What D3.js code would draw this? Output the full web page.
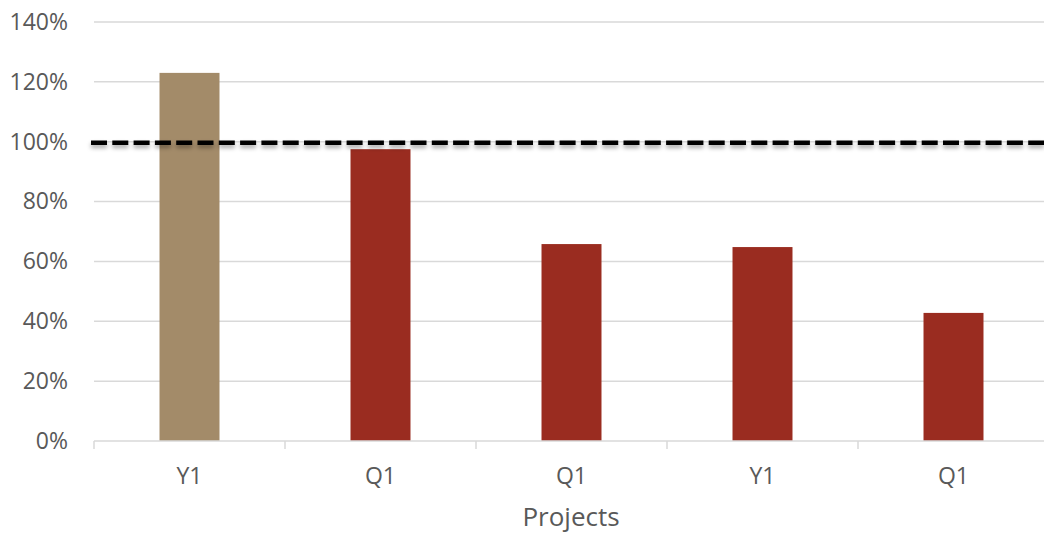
<!DOCTYPE html>
<html>
<head>
<meta charset="utf-8">
<script src="https://cdn.jsdelivr.net/npm/d3@7/dist/d3.min.js"></script>
<style>
  html, body { margin: 0; padding: 0; background: #fff; }
  svg { display: block; font-family: "Open Sans", "Noto Sans", sans-serif; }
</style>
</head>
<body>
<svg id="chart" width="1044" height="535"></svg>
<script>
// Project completion ratios
const categories = ["Y1", "Q1", "Q1", "Y1", "Q1"];
const values = [123, 97.5, 65.8, 64.8, 42.8];
const barColors = ["#A38B69", "#9A2C20", "#9A2C20", "#9A2C20", "#9A2C20"];
const yTicks = [0, 20, 40, 60, 80, 100, 120, 140];
const targetValue = 100;
const xTitle = "Projects";

const svg = d3.select("#chart");
const plotLeft = 94, plotRight = 1049, plotTop = 22, plotBottom = 441;

const x = d3.scaleBand()
  .domain(d3.range(categories.length))
  .range([plotLeft, plotRight])
  .paddingInner(0.686)
  .paddingOuter(0.343);

const band = d3.scaleBand()
  .domain(d3.range(categories.length))
  .range([plotLeft, plotRight]);

const y = d3.scaleLinear().domain([0, 140]).range([plotBottom, plotTop]);

// drop shadow for the target line (user-space region: the line has no height)
const defs = svg.append("defs");
const f = defs.append("filter").attr("id", "shadow")
  .attr("filterUnits", "userSpaceOnUse")
  .attr("x", 0).attr("y", y(targetValue) - 20)
  .attr("width", 1044).attr("height", 40);
f.append("feDropShadow")
  .attr("dx", 0).attr("dy", 3).attr("stdDeviation", 2)
  .attr("flood-color", "#000").attr("flood-opacity", 0.35);

// gridlines
svg.append("g")
  .selectAll("line")
  .data(yTicks.filter(d => d > 0))
  .join("line")
  .attr("x1", plotLeft).attr("x2", 1044)
  .attr("y1", d => y(d)).attr("y2", d => y(d))
  .attr("stroke", "#d9d9d9").attr("stroke-width", 1.5);

// y axis labels
const yAxis = d3.axisLeft(y).tickValues(yTicks).tickFormat(d => d + "%").tickSize(0).tickPadding(0);
svg.append("g")
  .attr("transform", `translate(68,0)`)
  .call(yAxis)
  .call(g => g.select(".domain").remove())
  .call(g => g.selectAll("text")
    .attr("fill", "#595959")
    .style("font-size", "23px")
    .style("font-family", "'Open Sans', sans-serif"));

// bars
svg.append("g")
  .selectAll("rect")
  .data(values)
  .join("rect")
  .attr("x", (d, i) => x(i))
  .attr("width", x.bandwidth())
  .attr("y", d => y(d))
  .attr("height", d => y(0) - y(d))
  .attr("fill", (d, i) => barColors[i]);

// x axis baseline and category ticks
const xg = svg.append("g");
xg.append("line")
  .attr("x1", plotLeft).attr("x2", 1044)
  .attr("y1", plotBottom).attr("y2", plotBottom)
  .attr("stroke", "#d9d9d9").attr("stroke-width", 1.5);
xg.selectAll("line.tk")
  .data(d3.range(categories.length))
  .join("line")
  .attr("class", "tk")
  .attr("x1", i => band(i)).attr("x2", i => band(i))
  .attr("y1", plotBottom).attr("y2", plotBottom + 8)
  .attr("stroke", "#d9d9d9").attr("stroke-width", 1.5);
xg.selectAll("text")
  .data(categories)
  .join("text")
  .attr("x", (d, i) => x(i) + x.bandwidth() / 2)
  .attr("y", 484)
  .attr("text-anchor", "middle")
  .attr("fill", "#595959")
  .style("font-size", "23px")
  .text(d => d);

// axis title
svg.append("text")
  .attr("x", 571).attr("y", 526)
  .attr("text-anchor", "middle")
  .attr("fill", "#595959")
  .style("font-size", "26px")
  .text(xTitle);

// target line at 100%
svg.append("line")
  .attr("x1", 91).attr("x2", 1044)
  .attr("y1", y(targetValue) + 1).attr("y2", y(targetValue) + 1)
  .attr("stroke", "#000").attr("stroke-width", 4.5)
  .attr("stroke-dasharray", "16,5.3")
  .attr("filter", "url(#shadow)");
</script>
</body>
</html>
